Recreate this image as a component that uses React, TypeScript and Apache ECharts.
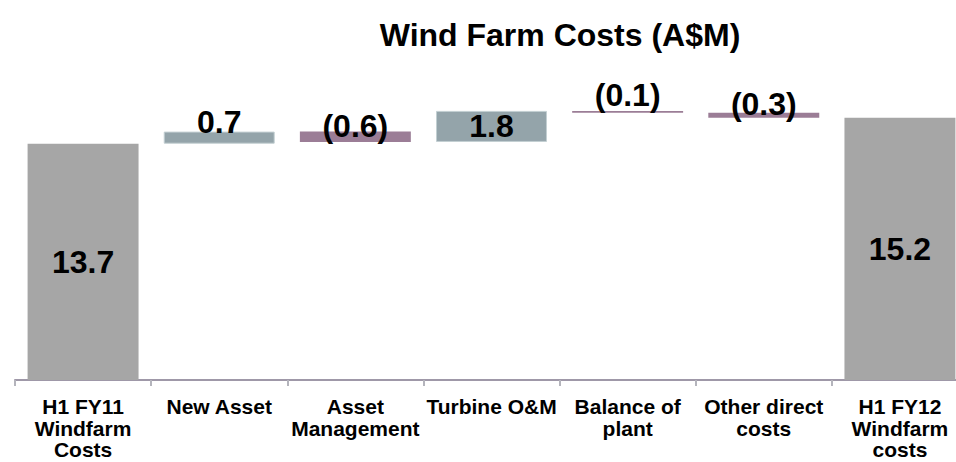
import React, { useEffect, useRef } from "react";
import * as echarts from "echarts";

const categories = [
  "H1 FY11\nWindfarm\nCosts",
  "New Asset",
  "Asset\nManagement",
  "Turbine O&M",
  "Balance of\nplant",
  "Other direct\ncosts",
  "H1 FY12\nWindfarm\ncosts",
];
const startTotal = 13.7;
const changes = [0.7, -0.6, 1.8, -0.1, -0.3];
const endTotal = 15.2;

// styling: vertical nudge (px) of the small change labels, per change
const labelNudge = [6, 10, 0, 0, 7];

const TOTAL_COLOR = "#a6a6a6";
const UP_COLOR = "#94a4aa";
const DOWN_COLOR = "#9b7d96";
const FONT = "'Liberation Sans', Arial, sans-serif";

const r1 = (v: number) => Math.round(v * 10) / 10;

export default function App() {
  const ref = useRef<HTMLDivElement>(null);
  useEffect(() => {
    if (!ref.current) return;
    const chart = echarts.init(ref.current, undefined, { renderer: "svg" });

    const base: number[] = [0];
    const items: any[] = [];
    items.push({
      value: startTotal,
      itemStyle: { color: TOTAL_COLOR },
      label: { position: "inside", formatter: startTotal.toFixed(1) },
    });
    let running = startTotal;
    changes.forEach((c, i) => {
      const inside = Math.abs(c) >= 1;
      const label: any = {
        position: inside ? "inside" : "top",
        distance: 0,
        offset: inside ? [0, 0] : [0, labelNudge[i]],
        formatter: c < 0 ? `(${Math.abs(c).toFixed(1)})` : c.toFixed(1),
      };
      if (c >= 0) {
        base.push(r1(running));
        running = r1(running + c);
        items.push({
          value: c,
          itemStyle: { color: UP_COLOR, borderColor: "#c3cfd2", borderWidth: 1 },
          label,
        });
      } else {
        running = r1(running + c);
        base.push(running);
        items.push({ value: -c, itemStyle: { color: DOWN_COLOR }, label });
      }
    });
    base.push(0);
    items.push({
      value: endTotal,
      itemStyle: { color: TOTAL_COLOR },
      label: { position: "inside", formatter: endTotal.toFixed(1) },
    });

    chart.setOption({
      animation: false,
      backgroundColor: "#ffffff",
      graphic: [
        {
          type: "text",
          x: 560,
          y: 35,
          style: {
            text: "Wind Farm Costs (A$M)",
            font: `bold 32px ${FONT}`,
            fill: "#000",
            textAlign: "center",
            textVerticalAlign: "middle",
          },
        },
      ],
      grid: { left: 15, top: 104, width: 953, height: 276 },
      xAxis: {
        type: "category",
        data: categories,
        axisLine: { show: true, lineStyle: { color: "#9f98a8", width: 2 } },
        axisTick: {
          show: true,
          alignWithLabel: false,
          length: 6,
          lineStyle: { color: "#b4b4bc", width: 2 },
        },
        axisLabel: {
          interval: 0,
          fontFamily: FONT,
          fontSize: 21,
          fontWeight: "bold",
          lineHeight: 21.5,
          color: "#000",
          margin: 16,
        },
      },
      yAxis: { type: "value", min: 0, max: 16, show: false },
      series: [
        {
          type: "bar",
          stack: "w",
          data: base,
          silent: true,
          itemStyle: { color: "transparent" },
          barWidth: "81.5%",
        },
        {
          type: "bar",
          stack: "w",
          data: items,
          barWidth: "81.5%",
          label: {
            show: true,
            fontFamily: FONT,
            fontSize: 32,
            fontWeight: "bold",
            color: "#000",
          },
        },
      ],
    });
    return () => chart.dispose();
  }, []);

  return (
    <div
      style={{
        position: "fixed",
        left: 0,
        top: 0,
        width: 956,
        height: 462,
        overflow: "hidden",
        background: "#fff",
      }}
    >
      <div ref={ref} style={{ width: 980, height: 462 }} />
    </div>
  );
}
